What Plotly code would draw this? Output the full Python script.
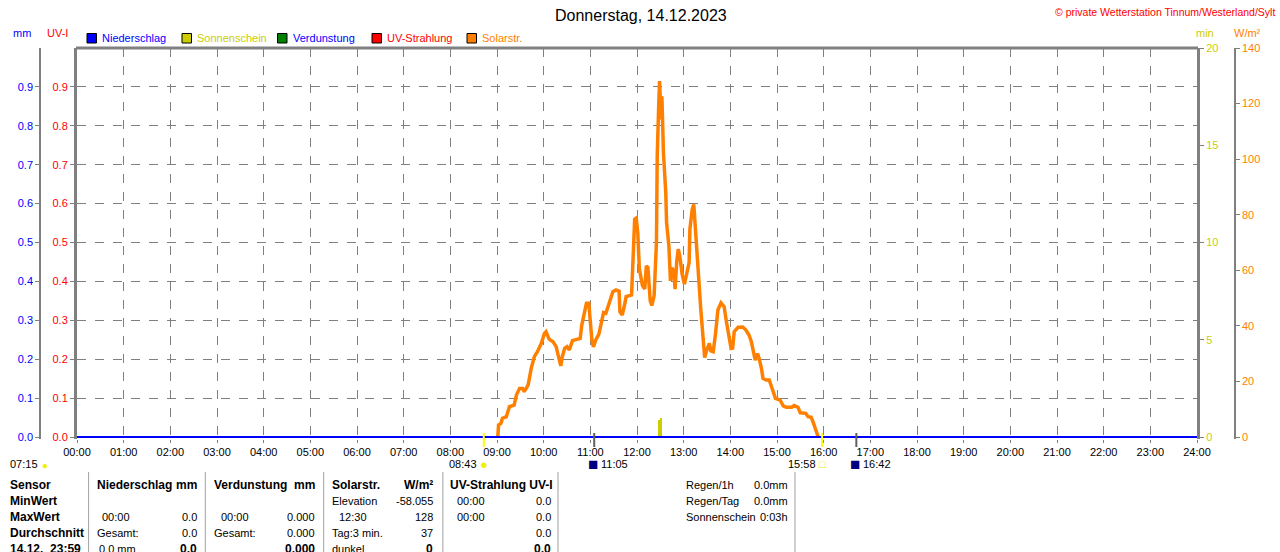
import plotly.graph_objects as go

W, H = 1280, 552

# --- data ---------------------------------------------------------------
hour_labels = ["00:00", "01:00", "02:00", "03:00", "04:00", "05:00", "06:00", "07:00",
               "08:00", "09:00", "10:00", "11:00", "12:00", "13:00", "14:00", "15:00",
               "16:00", "17:00", "18:00", "19:00", "20:00", "21:00", "22:00", "23:00", "24:00"]

# solar radiation, minutes after midnight / W/m2
solar_min = [541, 542, 545, 547, 552, 556, 562, 565, 569, 573, 575, 580, 584, 588, 592, 597,
             601, 603, 607, 612, 616, 619, 622, 624, 627, 630, 633, 637, 644, 647, 649, 652,
             655, 658, 660, 662, 664, 667, 671, 674, 677, 680, 685, 689, 693, 697, 698, 701,
             704, 706, 713, 715, 717, 719, 721, 723, 727, 730, 732, 734, 735, 737, 739, 742,
             745, 746, 748, 749, 751, 752, 754, 757, 758, 761, 763, 765, 767, 769, 771, 773,
             775, 778, 781, 783, 787, 788, 791, 793, 795, 797, 800, 802, 804, 806, 807, 809,
             811, 813, 815, 818, 821, 824, 828, 832, 835, 838, 841, 843, 845, 850, 856, 860,
             864, 867, 870, 872, 875, 877, 880, 882, 886, 890, 893, 896, 898, 904, 908, 912,
             919, 922, 927, 930, 937, 940, 944, 947, 950, 952, 953]
solar_wm2 = [0, 4.3, 4.9, 6.7, 7.3, 10.9, 11.5, 15.1, 17.5, 17.5, 16.3, 18.7, 24.7, 28.9, 30.7, 33.7,
             37.3, 37.9, 35.2, 34.3, 32.5, 28.9, 25.6, 28.9, 31.9, 32.5, 31.3, 34.7, 35.2, 35.5, 40.3, 45.1,
             48.1, 48.1, 41.0, 34.9, 32.4, 34.9, 37.0, 40.5, 44.8, 44.5, 49.2, 52.3, 52.9, 52.5, 45.1, 43.9,
             47.5, 50.5, 51.1, 62.9, 78.4, 78.8, 73.6, 60.5, 54.5, 53.3, 61.6, 61.0, 55.6, 49.0, 47.3, 50.8,
             70.0, 101.1, 120.3, 128.1, 114.3, 122.6, 102.3, 87.9, 77.2, 68.8, 56.2, 60.9, 59.7, 53.2, 62.8, 67.6,
             65.2, 58.6, 55.0, 57.4, 62.8, 74.8, 81.9, 83.7, 74.8, 62.8, 54.4, 46.0, 38.8, 31.6, 28.6, 30.7,
             32.5, 33.7, 31.0, 30.7, 37.3, 45.7, 48.3, 46.9, 41.5, 36.1, 31.9, 32.0, 37.9, 39.5, 39.6, 38.5,
             36.7, 34.3, 29.5, 27.7, 30.0, 28.3, 24.7, 21.1, 20.5, 20.5, 18.1, 15.7, 13.9, 13.3, 11.2, 10.7,
             10.7, 11.3, 10.7, 8.7, 8.5, 7.3, 7.1, 4.9, 1.9, 0.4, 0]

# sunshine minutes
sun_min = [748, 751]
sun_val = [0.9, 1.0]

# precipitation (mm) and UV index, zero all day
day_min = [0, 1440]
rain_mm = [0.0, 0.0]
uv_idx = [0.0, 0.0]

left_ticks = [0.0, 0.1, 0.2, 0.3, 0.4, 0.5, 0.6, 0.7, 0.8, 0.9]
left_labels = ["0.0", "0.1", "0.2", "0.3", "0.4", "0.5", "0.6", "0.7", "0.8", "0.9"]

sunrise, sunset = "08:43", "15:58"
moonrise, moonset = "11:05", "16:42"


def to_min(s):
    h, m = s.split(":")
    return int(h) * 60 + int(m)


def px(x):
    return x / W


def py(y):
    return 1 - y / H


FONT = "Liberation Sans"
GRAY = "#808080"
BLUE = "#0000ff"
RED = "#ff0000"
OLIVE = "#cccc00"
ORANGE = "#ff8000"

# plot frame in pixels; the zero line sits a little above the bottom edge
TOP, ZERO, BOTTOM = 48, 437, 439
pad = (BOTTOM - ZERO) / (ZERO - TOP)   # fraction of the span below zero

fig = go.Figure()
fig.add_trace(go.Scatter(x=day_min, y=uv_idx, mode="lines", line=dict(color=RED, width=2),
                         yaxis="y", showlegend=False))
fig.add_trace(go.Bar(x=sun_min, y=sun_val, width=3, marker=dict(color=OLIVE, line_width=0),
                     yaxis="y2", showlegend=False))
fig.add_trace(go.Scatter(x=solar_min, y=solar_wm2, mode="lines", line=dict(color=ORANGE, width=3.5),
                         yaxis="y3", showlegend=False))
fig.add_trace(go.Scatter(x=day_min, y=rain_mm, mode="lines", line=dict(color=BLUE, width=2),
                         yaxis="y4", showlegend=False))

tick = dict(ticks="outside", ticklen=4, tickcolor=GRAY, zeroline=False, automargin=False)

fig.update_layout(
    width=W, height=H,
    margin=dict(l=0, r=0, t=0, b=0, autoexpand=False),
    paper_bgcolor="white", plot_bgcolor="white",
    font=dict(family=FONT, size=11, color="black"),
    bargap=0,
    xaxis=dict(domain=[px(77), px(1197)], range=[0, 1440],
               tickvals=[i * 60 for i in range(25)], ticktext=hour_labels,
               showgrid=True, gridcolor=GRAY, griddash="dash", gridwidth=1,
               showline=False, tickfont=dict(size=11, color="black"),
               **dict(tick, ticklen=3)),
    yaxis=dict(domain=[py(BOTTOM), py(TOP)], range=[-pad, 1], tickvals=left_ticks, ticktext=left_labels,
               showgrid=True, gridcolor=GRAY, griddash="dash", gridwidth=1,
               showline=True, linecolor=GRAY, linewidth=3,
               tickfont=dict(size=11, color=RED), **tick),
    yaxis2=dict(overlaying="y", side="right", anchor="x", range=[-pad * 20, 20], tickvals=[0, 5, 10, 15, 20],
                showgrid=False, showline=True, linecolor=GRAY, linewidth=3,
                tickfont=dict(size=11, color=OLIVE), **tick),
    yaxis3=dict(overlaying="y", side="right", anchor="free", position=px(1235), range=[-pad * 140, 140],
                tickvals=[0, 20, 40, 60, 80, 100, 120, 140],
                showgrid=False, showline=True, linecolor=GRAY, linewidth=1.5,
                tickfont=dict(size=11, color=ORANGE), **tick),
    yaxis4=dict(overlaying="y", side="left", anchor="free", position=px(40), range=[-pad, 1],
                tickvals=left_ticks, ticktext=left_labels,
                showgrid=False, showline=True, linecolor=GRAY, linewidth=1.5,
                tickfont=dict(size=11, color=BLUE), **tick),
)

# top border of the frame
fig.add_shape(type="line", xref="paper", yref="paper", x0=px(76), x1=px(1198), y0=py(TOP), y1=py(TOP),
              line=dict(color=GRAY, width=3))


def txt(x, y, s, color="black", size=11, anchor="left", bold=False):
    fig.add_annotation(x=px(x), y=py(y), xref="paper", yref="paper", text=f"<b>{s}</b>" if bold else s,
                       showarrow=False, xanchor=anchor, yanchor="middle",
                       font=dict(family=FONT, size=size, color=color))


def event_txt(t, s, color="black", size=11, anchor="center", shift=0):
    fig.add_annotation(x=to_min(t), y=py(464), xref="x", yref="paper", text=s, showarrow=False,
                       xanchor=anchor, yanchor="middle", xshift=shift,
                       font=dict(family=FONT, size=size, color=color))


# title and header texts
txt(641, 15, "Donnerstag, 14.12.2023", size=16, anchor="center")
txt(1277, 12, "© private Wetterstation Tinnum/Westerland/Sylt", color=RED, size=10.5, anchor="right")
txt(22, 33, "mm", color=BLUE, anchor="center")
txt(57, 33, "UV-I", color=RED, anchor="center")
txt(1205, 33, "min", color=OLIVE, anchor="center")
txt(1247, 33, "W/m²", color=ORANGE, anchor="center")

# legend boxes
legend = [("Niederschlag", BLUE, 87, BLUE), ("Sonnenschein", OLIVE, 182, OLIVE),
          ("Verdunstung", "#008000", 277.5, BLUE), ("UV-Strahlung", RED, 372, RED),
          ("Solarstr.", ORANGE, 467, ORANGE)]
for name, fill, x0, tcol in legend:
    fig.add_shape(type="rect", xref="paper", yref="paper", x0=px(x0), x1=px(x0 + 9.5),
                  y0=py(43), y1=py(33.5), fillcolor=fill, line=dict(color="black", width=1))
    txt(x0 + 13, 38, name, color=tcol)

# sun / moon events under the time axis
for t, col in [(sunrise, "#ffff00"), (sunset, "#ffff00"), (moonrise, "#606060"), (moonset, "#606060")]:
    fig.add_shape(type="line", xref="x", yref="paper", x0=to_min(t), x1=to_min(t),
                  y0=py(447), y1=py(433), line=dict(color=col, width=2))

event_txt(sunrise, sunrise, anchor="right", shift=-5)
event_txt(sunrise, "●", color="#f0f000", size=13)
event_txt(sunset, sunset, anchor="right", shift=-4)
event_txt(sunset, "□", color="#e8e800", size=11)
for t in (moonrise, moonset):
    event_txt(t, "■", color="#000080", size=17, shift=-1)
    event_txt(t, t, anchor="left", shift=5)
txt(8, 464, "07:15")
txt(40, 465, "●", color="#f0f000", size=10)

# table separators
for x in [88.6, 205.3, 323.7, 442.9, 558, 795]:
    fig.add_shape(type="line", xref="paper", yref="paper", x0=px(x), x1=px(x), y0=py(552), y1=py(472),
                  line=dict(color="#a0a0a0", width=1))

rows = [485, 501, 517, 533, 549]
for y, s in zip(rows, ["Sensor", "MinWert", "MaxWert", "Durchschnitt", "14.12.  23:59"]):
    txt(8, y, s, bold=True, size=12)

txt(95, rows[0], "Niederschlag", bold=True, size=12)
txt(199, rows[0], "mm", bold=True, size=12, anchor="right")
txt(212, rows[0], "Verdunstung", bold=True, size=12)
txt(317, rows[0], "mm", bold=True, size=12, anchor="right")
txt(330, rows[0], "Solarstr.", bold=True, size=12)
txt(435, rows[0], "W/m²", bold=True, size=12, anchor="right")
txt(448, rows[0], "UV-Strahlung UV-I", bold=True, size=12)

# Niederschlag column
txt(100, rows[2], "00:00")
txt(199, rows[2], "0.0", anchor="right")
txt(95, rows[3], "Gesamt:")
txt(199, rows[3], "0.0", anchor="right")
txt(97, rows[4], "0.0 mm")
txt(199, rows[4], "0.0", anchor="right", bold=True, size=12)

# Verdunstung column
txt(219, rows[2], "00:00")
txt(317, rows[2], "0.000", anchor="right")
txt(212, rows[3], "Gesamt:")
txt(317, rows[3], "0.000", anchor="right")
txt(317, rows[4], "0.000", anchor="right", bold=True, size=12)

# Solar column
txt(330, rows[1], "Elevation")
txt(435, rows[1], "-58.055", anchor="right")
txt(337, rows[2], "12:30")
txt(435, rows[2], "128", anchor="right")
txt(330, rows[3], "Tag:3 min.")
txt(435, rows[3], "37", anchor="right")
txt(330, rows[4], "dunkel")
txt(435, rows[4], "0", anchor="right", bold=True, size=12)

# UV column
txt(455, rows[1], "00:00")
txt(553, rows[1], "0.0", anchor="right")
txt(455, rows[2], "00:00")
txt(553, rows[2], "0.0", anchor="right")
txt(553, rows[3], "0.0", anchor="right")
txt(553, rows[4], "0.0", anchor="right", bold=True, size=12)

# summary block
for y, a, b in zip(rows[:3], ["Regen/1h", "Regen/Tag", "Sonnenschein"], ["0.0mm", "0.0mm", "0:03h"]):
    txt(684, y, a)
    txt(790, y, b, anchor="right")

# the page body has a default margin; drop it so the figure sits at the window corner
fig.write_html("out.html", config={"displayModeBar": False},
               post_script="document.body.style.margin='0';")
